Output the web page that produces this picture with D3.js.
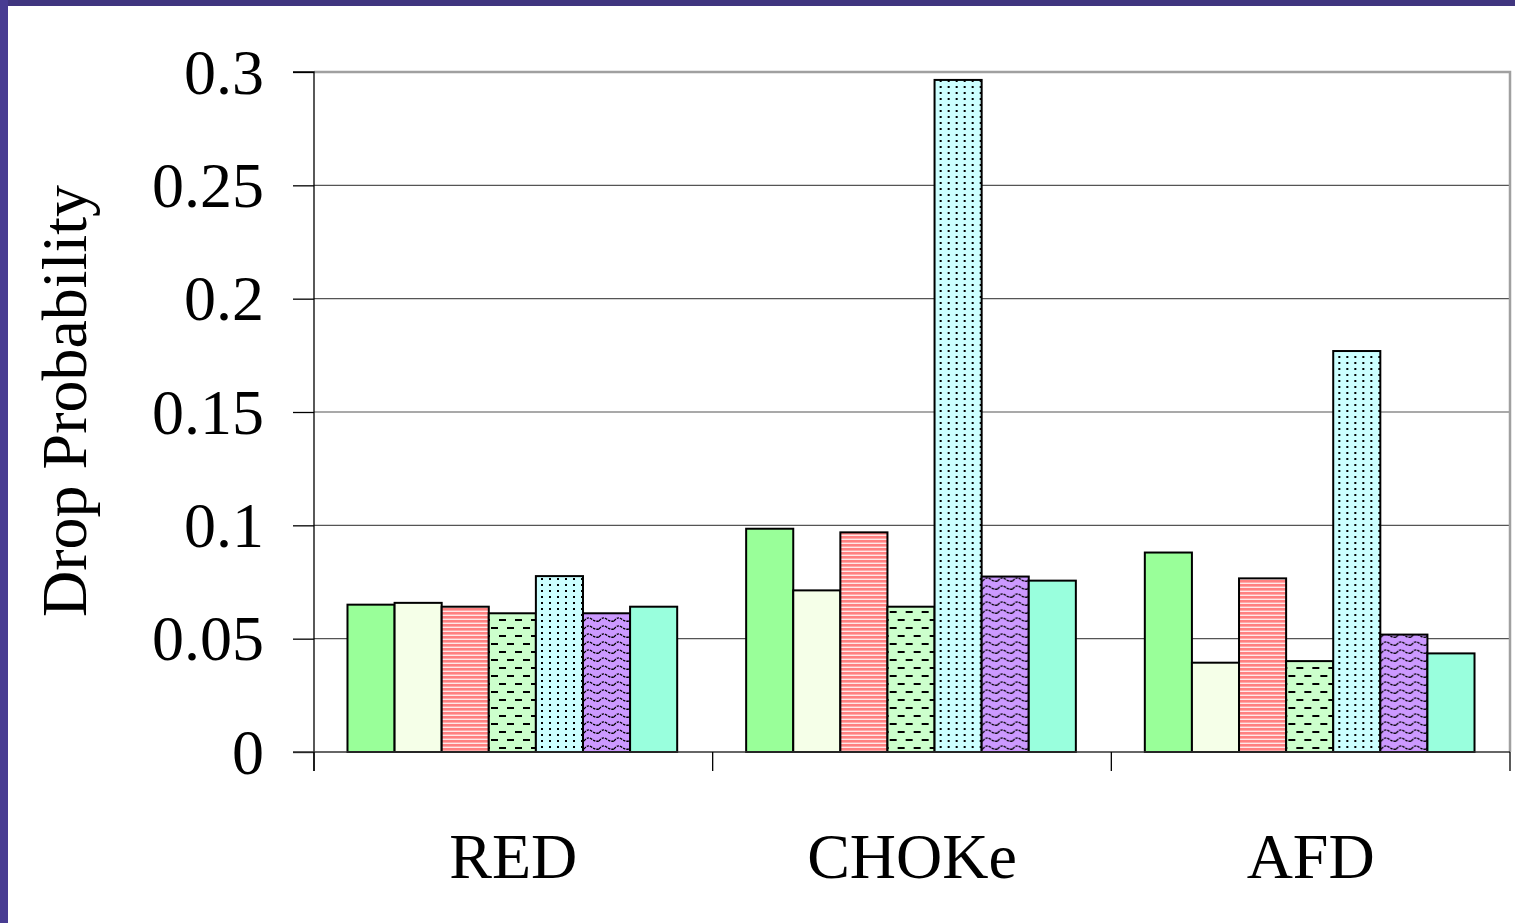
<!DOCTYPE html>
<html>
<head>
<meta charset="utf-8">
<script src="https://cdn.jsdelivr.net/npm/d3@7"></script>
<style>
  html, body { margin: 0; padding: 0; background: #fff; }
  svg { display: block; }
</style>
</head>
<body>
<svg id="chart" width="1515" height="923"></svg>
<script>
// ---- data ----
const categories = ["RED", "CHOKe", "AFD"];
const seriesNames = ["s1", "s2", "s3", "s4", "s5", "s6", "s7"];
const series1 = [0.065, 0.0985, 0.088];
const series2 = [0.0658, 0.0713, 0.0394];
const series3 = [0.0641, 0.0969, 0.0766];
const series4 = [0.0612, 0.0641, 0.0401];
const series5 = [0.0776, 0.2965, 0.1769];
const series6 = [0.0612, 0.0774, 0.0518];
const series7 = [0.0641, 0.0756, 0.0435];
const yTickValues = [0, 0.05, 0.1, 0.15, 0.2, 0.25, 0.3];
const yTickLabels = ["0", "0.05", "0.1", "0.15", "0.2", "0.25", "0.3"];
const yTitle = "Drop Probability";

const allSeries = [series1, series2, series3, series4, series5, series6, series7];

const svg = d3.select("#chart");
const font = "'Liberation Serif', 'Times New Roman', serif";

// ---- patterns ----
const defs = svg.append("defs");
// horizontal red stripes
const pStripe = defs.append("pattern").attr("id", "stripes").attr("patternUnits", "userSpaceOnUse")
  .attr("width", 8).attr("height", 4);
pStripe.append("rect").attr("width", 8).attr("height", 4).attr("fill", "#ffe8e8");
pStripe.append("rect").attr("y", 0).attr("width", 8).attr("height", 2.6).attr("fill", "#ff8080");
// dashes on light green
const pDash = defs.append("pattern").attr("id", "dashes").attr("patternUnits", "userSpaceOnUse")
  .attr("width", 16).attr("height", 16);
pDash.append("rect").attr("width", 16).attr("height", 16).attr("fill", "#ccffcc");
pDash.append("rect").attr("x", 1).attr("y", 3).attr("width", 7).attr("height", 2).attr("fill", "#000");
pDash.append("rect").attr("x", 9).attr("y", 11).attr("width", 7).attr("height", 2).attr("fill", "#000");
// dots on light cyan
const pDot = defs.append("pattern").attr("id", "dots").attr("patternUnits", "userSpaceOnUse")
  .attr("width", 8).attr("height", 6);
pDot.append("rect").attr("width", 8).attr("height", 6).attr("fill", "#ccffff");
pDot.append("rect").attr("x", 3).attr("y", 2).attr("width", 2).attr("height", 2).attr("fill", "#000");
// waves on purple
const pWave = defs.append("pattern").attr("id", "waves").attr("patternUnits", "userSpaceOnUse")
  .attr("width", 15).attr("height", 8);
pWave.append("rect").attr("width", 15).attr("height", 8).attr("fill", "#cc99ff");
pWave.append("path").attr("d", "M0,5 Q3.75,0 7.5,3 Q11.25,6 15,5")
  .attr("fill", "none").attr("stroke", "#000").attr("stroke-width", 1.4).attr("stroke-dasharray", "2.5,1");

const fills = ["#99ff99", "#f5ffe8", "url(#stripes)", "url(#dashes)", "url(#dots)", "url(#waves)", "#99ffdd"];

// ---- frame ----
svg.append("rect").attr("x", 0).attr("y", 0).attr("width", 1515).attr("height", 6).attr("fill", "#40357f");
svg.append("rect").attr("x", 0).attr("y", 0).attr("width", 8).attr("height", 923).attr("fill", "#483c92");

// ---- scales ----
const plotLeft = 314, plotRight = 1510, plotTop = 72, plotBottom = 752;
const x0 = d3.scaleBand().domain(categories).range([plotLeft, plotRight]).padding(0);
const x1 = d3.scaleBand().domain(seriesNames)
  .range([x0.bandwidth() * 0.0840, x0.bandwidth() * 0.9110]).padding(0);
const y = d3.scaleLinear().domain([0, 0.3]).range([plotBottom, plotTop]);

// ---- gridlines ----
svg.append("g").selectAll("line").data(yTickValues.filter(v => v > 0 && v < 0.3)).join("line")
  .attr("x1", plotLeft).attr("x2", plotRight)
  .attr("y1", d => y(d)).attr("y2", d => y(d))
  .attr("stroke", "#555").attr("stroke-width", 1.2);

// plot border top/right (gray)
svg.append("path")
  .attr("d", `M${plotLeft},${y(0.3)}H${plotRight}V${plotBottom}`)
  .attr("fill", "none").attr("stroke", "#a0a0a0").attr("stroke-width", 2.5);

// ---- bars ----
const groups = svg.append("g").selectAll("g").data(categories).join("g")
  .attr("transform", d => `translate(${x0(d)},0)`);
groups.selectAll("rect")
  .data((c, ci) => seriesNames.map((s, si) => ({ s, si, v: allSeries[si][ci] })))
  .join("rect")
  .attr("x", d => x1(d.s))
  .attr("y", d => y(d.v))
  .attr("width", x1.bandwidth())
  .attr("height", d => y(0) - y(d.v))
  .attr("fill", d => fills[d.si])
  .attr("stroke", "#000").attr("stroke-width", 2);

// ---- y axis ----
const yAxis = d3.axisLeft(y).tickValues(yTickValues).tickSize(21).tickPadding(29)
  .tickFormat((d, i) => yTickLabels[i]);
const gy = svg.append("g").attr("transform", `translate(${plotLeft},0)`).call(yAxis);
gy.select(".domain").attr("stroke", "#000").attr("stroke-width", 1.3)
  .attr("d", `M-21,${plotTop}H0V${plotBottom + 19}`);
gy.selectAll(".tick line").attr("stroke", "#000").attr("stroke-width", 1.3);
gy.selectAll(".tick text").attr("font-family", font).attr("font-size", 64).attr("fill", "#000")
  .attr("dy", "0.33em");

// zero baseline
svg.append("line").attr("x1", plotLeft - 21).attr("x2", plotRight)
  .attr("y1", y(0)).attr("y2", y(0)).attr("stroke", "#333").attr("stroke-width", 1.5);

// ---- x axis ----
const xAxis = d3.axisBottom(x0).tickSize(0).tickPadding(81);
const gx = svg.append("g").attr("transform", `translate(0,${plotBottom})`).call(xAxis);
gx.select(".domain").remove();
gx.selectAll(".tick text").attr("font-family", font).attr("font-size", 64).attr("fill", "#000")
  .attr("dy", "0.71em");
// category separators
const seps = categories.map(c => x0(c)).concat([x0(categories[categories.length - 1]) + x0.bandwidth()]);
svg.append("g").selectAll("line").data(seps).join("line")
  .attr("x1", d => d).attr("x2", d => d)
  .attr("y1", plotBottom).attr("y2", plotBottom + 19)
  .attr("stroke", "#000").attr("stroke-width", 1.3);

// ---- y title ----
svg.append("text")
  .attr("transform", `translate(86,${401}) rotate(-90)`)
  .attr("text-anchor", "middle")
  .attr("font-family", font).attr("font-size", 64).attr("fill", "#000")
  .text(yTitle);
</script>
</body>
</html>
